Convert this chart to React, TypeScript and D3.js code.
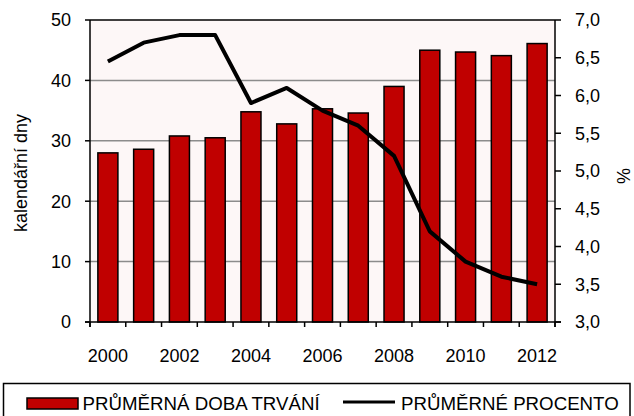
import React, { useEffect, useRef } from 'react'
import * as d3 from 'd3'

const years = [2000, 2001, 2002, 2003, 2004, 2005, 2006, 2007, 2008, 2009, 2010, 2011, 2012]
const duration = [28.0, 28.6, 30.8, 30.5, 34.8, 32.8, 35.3, 34.6, 39.0, 45.0, 44.7, 44.1, 46.1]
const percent = [6.45, 6.7, 6.8, 6.8, 5.9, 6.1, 5.8, 5.6, 5.2, 4.2, 3.8, 3.6, 3.5]
const leftTicks = [0, 10, 20, 30, 40, 50]
const rightTicks = [3, 3.5, 4, 4.5, 5, 5.5, 6, 6.5, 7]
const xLabels = [2000, 2002, 2004, 2006, 2008, 2010, 2012]

const W = 634
const H = 416
const m = { left: 90, right: 555, top: 20, bottom: 322 }
const FONT = 'Liberation Sans, Arial, sans-serif'

const App = () => {
  const ref = useRef<SVGSVGElement>(null)

  useEffect(() => {
    const svg = d3.select(ref.current)
    svg.selectAll('*').remove()

    const x = d3.scaleBand<number>().domain(years).range([m.left, m.right]).paddingInner(0.44).paddingOuter(0.22)
    const yL = d3.scaleLinear().domain([0, 50]).range([m.bottom, m.top])
    const yR = d3.scaleLinear().domain([3, 7]).range([m.bottom, m.top])
    const step = (m.right - m.left) / years.length

    svg.append('rect')
      .attr('x', m.left).attr('y', m.top)
      .attr('width', m.right - m.left).attr('height', m.bottom - m.top)
      .attr('fill', '#fdf7f7')

    // grid
    svg.append('g').selectAll('line')
      .data(leftTicks.filter((d) => d > 0 && d < 50))
      .join('line')
      .attr('x1', m.left).attr('x2', m.right)
      .attr('y1', (d) => yL(d)).attr('y2', (d) => yL(d))
      .attr('stroke', '#8c8c8c').attr('stroke-width', 1.5)

    // bars
    svg.append('g').selectAll('rect')
      .data(duration)
      .join('rect')
      .attr('x', (d, i) => x(years[i])!)
      .attr('y', (d) => yL(d))
      .attr('width', x.bandwidth())
      .attr('height', (d) => yL(0) - yL(d))
      .attr('fill', '#c00000')
      .attr('stroke', '#000').attr('stroke-width', 1.5)

    // line
    const line = d3.line<number>()
      .x((d, i) => x(years[i])! + x.bandwidth() / 2)
      .y((d) => yR(d))
    svg.append('path')
      .datum(percent)
      .attr('d', line)
      .attr('fill', 'none')
      .attr('stroke', '#000')
      .attr('stroke-width', 4)
      .attr('stroke-linejoin', 'round')

    // frame
    const ax = svg.append('g').attr('stroke', '#000').attr('stroke-width', 1.5)
    ax.append('line').attr('x1', m.left).attr('x2', m.right).attr('y1', m.top).attr('y2', m.top)
    ax.append('line').attr('x1', m.left - 5).attr('x2', m.right + 6).attr('y1', m.bottom).attr('y2', m.bottom)
    ax.append('line').attr('x1', m.left).attr('x2', m.left).attr('y1', m.top).attr('y2', m.bottom + 5)
    ax.append('line').attr('x1', m.right).attr('x2', m.right).attr('y1', m.top).attr('y2', m.bottom + 5)

    ax.selectAll('.tl').data(leftTicks).join('line')
      .attr('x1', m.left - 5).attr('x2', m.left)
      .attr('y1', (d) => yL(d)).attr('y2', (d) => yL(d))
    ax.selectAll('.tr').data(rightTicks).join('line')
      .attr('x1', m.right).attr('x2', m.right + 6)
      .attr('y1', (d) => yR(d)).attr('y2', (d) => yR(d))
    ax.selectAll('.tx').data(d3.range(years.length + 1)).join('line')
      .attr('x1', (i) => m.left + i * step).attr('x2', (i) => m.left + i * step)
      .attr('y1', m.bottom).attr('y2', m.bottom + 5)

    const txt = svg.append('g').attr('font-family', FONT).attr('font-size', 18).attr('fill', '#000')
    txt.selectAll('.ll').data(leftTicks).join('text')
      .attr('x', 71).attr('y', (d) => yL(d)).attr('dy', '0.35em')
      .attr('text-anchor', 'end').text((d) => d)
    txt.selectAll('.rl').data(rightTicks).join('text')
      .attr('x', 575).attr('y', (d) => yR(d)).attr('dy', '0.35em')
      .text((d) => d3.format('.1f')(d).replace('.', ','))
    txt.selectAll('.xl').data(xLabels).join('text')
      .attr('x', (d) => x(d)! + x.bandwidth() / 2).attr('y', 362)
      .attr('text-anchor', 'middle').text((d) => d)

    txt.append('text')
      .attr('transform', `translate(27,173) rotate(-90)`)
      .attr('text-anchor', 'middle').text('kalendářní dny')
    txt.append('text')
      .attr('transform', `translate(630,176) rotate(-90)`)
      .attr('text-anchor', 'middle').text('%')

    // legend
    const lg = svg.append('g')
    lg.append('rect').attr('x', 3.5).attr('y', 383.5).attr('width', 626.5).attr('height', 40)
      .attr('fill', '#fff').attr('stroke', '#000').attr('stroke-width', 1.5)
    lg.append('rect').attr('x', 27).attr('y', 398).attr('width', 51).attr('height', 11)
      .attr('fill', '#c00000').attr('stroke', '#000').attr('stroke-width', 1.5)
    lg.append('line').attr('x1', 343).attr('x2', 395).attr('y1', 402).attr('y2', 402)
      .attr('stroke', '#000').attr('stroke-width', 3)
    const lt = lg.append('g').attr('font-family', FONT).attr('font-size', 18.7)
    lt.append('text').attr('x', 82.5).attr('y', 410).text('PRŮMĚRNÁ DOBA TRVÁNÍ')
    lt.append('text').attr('x', 401).attr('y', 410).text('PRŮMĚRNÉ PROCENTO')
  }, [])

  return (
    <svg ref={ref} width={W} height={H}
      style={{ position: 'absolute', left: 0, top: 0, background: '#fff' }} />
  )
}

export default App
